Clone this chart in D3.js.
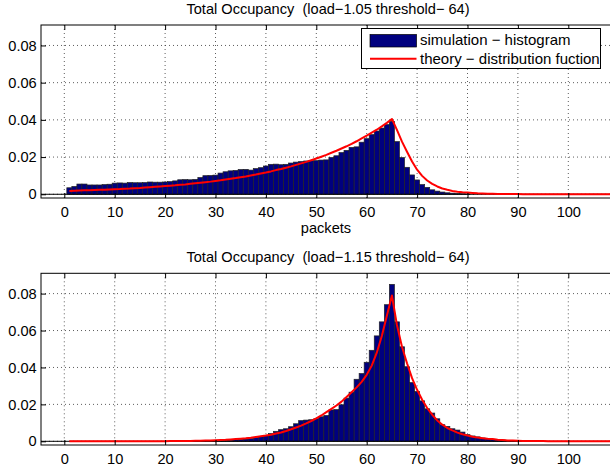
<!DOCTYPE html>
<html lang="en">
<head>
  <meta charset="UTF-8">
  <title>Total Occupancy</title>
  <script src="https://d3js.org/d3.v7.min.js"></script>
  <style>
    body { margin: 0; background: #fff; }
    svg { display: block; font-family: "Liberation Sans", Arial, sans-serif; }
    .title { white-space: pre; }
  </style>
</head>
<body>
  <svg width="610" height="472"></svg>

  <script>
    // tick values
    const xTicks = [0, 10, 20, 30, 40, 50, 60, 70, 80, 90, 100];
    const yTicks = [0, 0.02, 0.04, 0.06, 0.08];

    // panel titles
    const titles = [
      "Total Occupancy  (load\u22121.05 threshold\u2212 64)",
      "Total Occupancy  (load\u22121.15 threshold\u2212 64)"
    ];
    const legendLabels = ["simulation \u2212 histogram", "theory \u2212 distribution fuction"];

    // histogram, bins 1, 2, 3, ... (load 1.05)
    const histTop = [
      .0035, .0042, .0055, .0055, .0050, .0050, .0050, .0052, .0054, .0060,
      .0061, .0060, .0063, .0062, .0062, .0063, .0066, .0065, .0065, .0066,
      .0068, .0072, .0078, .0079, .0078, .0080, .0090, .0100, .0101, .0103,
      .0114, .0121, .0126, .0128, .0133, .0134, .0130, .0138, .0143, .0152,
      .0161, .0162, .0159, .0161, .0168, .0173, .0176, .0179, .0180, .0181,
      .0184, .0185, .0198, .0207, .0224, .0236, .0252, .0255, .0280, .0299,
      .0321, .0340, .0356, .0375, .0392, .0283, .0197, .0145, .0104, .0077,
      .0052, .0037, .0024, .0017, .0012, .0008, .0006, .0004, .0003, .0002
    ];

    // theory curve at packets 1, 2, 3, ... (load 1.05)
    const theoryTop = [
      .0018, .0019, .0020, .0021, .0022, .0023, .0024, .0025, .0026, .0027,
      .0028, .0030, .0031, .0033, .0034, .0036, .0038, .0040, .0042, .0044,
      .0046, .0048, .0051, .0053, .0056, .0059, .0062, .0065, .0068, .0072,
      .0075, .0079, .0083, .0087, .0092, .0096, .0101, .0106, .0112, .0117,
      .0123, .0130, .0136, .0143, .0150, .0158, .0166, .0174, .0183, .0192,
      .0202, .0212, .0223, .0234, .0246, .0258, .0271, .0285, .0300, .0315,
      .0331, .0347, .0365, .0384, .0405, .0346, .0283, .0229, .0176, .0132,
      .0099, .0074, .0056, .0042, .0031, .0024, .0018, .0014, .0011, .0009,
      .0007, .0005, .0004, .0003, .0003, .0002, .0002, .0001, .0001, .0001,
      0, 0, 0, 0, 0, 0, 0, 0, 0, 0,
      0, 0, 0, 0, 0, 0, 0, 0, 0
    ];

    // histogram, bins 1, 2, 3, ... (load 1.15)
    const histBottom = [
      0, 0, 0, 0, 0, 0, 0, 0, 0, 0,
      0, 0, 0, 0, 0, 0, 0, 0, 0, 0,
      0, 0, 0, 0, 0, .0001, .0001, .0002, .0002, .0003,
      .0004, .0005, .0006, .0008, .0010, .0012, .0015, .0020, .0026, .0032,
      .0042, .0054, .0063, .0068, .0079, .0095, .0112, .0115, .0117, .0122,
      .0133, .0140, .0170, .0172, .0198, .0234, .0266, .0336, .0367, .0428,
      .0493, .0571, .0647, .0740, .0850, .0647, .0512, .0404, .0318, .0270,
      .0219, .0176, .0153, .0122, .0090, .0081, .0068, .0061, .0050, .0036,
      .0029, .0024, .0018, .0015, .0011, .0009, .0007, .0005, .0004, .0003,
      .0002, .0001
    ];

    // theory curve at packets 1, 2, 3, ... (load 1.15)
    const theoryBottom = [
      0, 0, 0, 0, 0, 0, 0, 0, 0, 0,
      0, 0, 0, 0, 0, 0, 0, 0, 0, 0,
      .0001, .0001, .0001, .0002, .0002, .0003, .0003, .0004, .0005, .0006,
      .0007, .0008, .0010, .0012, .0014, .0016, .0019, .0023, .0027, .0031,
      .0036, .0042, .0048, .0056, .0065, .0075, .0085, .0097, .0110, .0124,
      .0140, .0158, .0176, .0194, .0215, .0240, .0266, .0292, .0322, .0360,
      .0410, .0480, .0570, .0680, .0790, .0630, .0512, .0423, .0342, .0279,
      .0225, .0180, .0144, .0113, .0090, .0072, .0059, .0047, .0038, .0031,
      .0025, .0020, .0017, .0014, .0012, .0009, .0007, .0005, .0004, .0003,
      .0002, .0002, .0001, .0001, .0001, 0, 0, 0, 0, 0,
      0, 0, 0, 0, 0, 0, 0, 0, 0
    ];

    const svg = d3.select("svg");
    const barFill = "#00007f";
    const left = 41, right = 615;
    const fontSize = 14.6;

    const x = d3.scaleLinear().domain([0, 100]).range([64.3, 568.3]);

    const panels = [
      { top: 25, bottom: 198, title: titles[0], hist: histTop, theory: theoryTop, xlabel: "packets", legend: true },
      { top: 273.3, bottom: 445, title: titles[1], hist: histBottom, theory: theoryBottom, xlabel: null, legend: false }
    ];

    svg.append("defs").append("clipPath").attr("id", "plotclip")
      .append("rect").attr("x", left).attr("y", 0).attr("width", right - left).attr("height", 472);

    panels.forEach((p, pi) => {
      const y = d3.scaleLinear().domain([-0.002, 0.091]).range([p.bottom, p.top]);
      const g = svg.append("g");

      // white plot background
      g.append("rect").attr("x", left).attr("y", p.top)
        .attr("width", right - left).attr("height", p.bottom - p.top).attr("fill", "#fff");

      // dotted grid
      g.append("g").selectAll("line").data(xTicks).join("line")
        .attr("x1", d => x(d)).attr("x2", d => x(d))
        .attr("y1", p.top).attr("y2", p.bottom)
        .attr("stroke", "#333").attr("stroke-width", 0.8).attr("stroke-dasharray", "1,3");
      g.append("g").selectAll("line").data(yTicks).join("line")
        .attr("x1", left).attr("x2", right)
        .attr("y1", d => y(d)).attr("y2", d => y(d))
        .attr("stroke", "#333").attr("stroke-width", 0.8).attr("stroke-dasharray", "1,3");

      const plot = g.append("g").attr("clip-path", "url(#plotclip)");

      // histogram bars
      const bins = p.hist.map((v, i) => ({ n: i + 1, v: v })).filter(d => d.v > 0);
      plot.append("g").selectAll("rect").data(bins).join("rect")
        .attr("x", d => x(d.n - 0.5))
        .attr("width", d => x(d.n + 0.5) - x(d.n - 0.5))
        .attr("y", d => y(d.v))
        .attr("height", d => y(0) - y(d.v))
        .attr("fill", barFill)
        .attr("stroke", "#222").attr("stroke-width", 0.7);

      // bar baseline
      plot.append("line").attr("x1", left).attr("x2", right)
        .attr("y1", y(0)).attr("y2", y(0))
        .attr("stroke", "#000").attr("stroke-width", 1);

      // theory curve
      const pts = p.theory.map((v, i) => [i + 1, v]);
      plot.append("path").datum(pts)
        .attr("fill", "none").attr("stroke", "#ff0000").attr("stroke-width", 2)
        .attr("stroke-linejoin", "round")
        .attr("d", d3.line().x(d => x(d[0])).y(d => y(d[1])));

      // axes (ticks inside the box)
      const fmt = d => d === 0 ? "0" : d.toFixed(2);
      const ax = g.append("g").attr("transform", `translate(0,${p.bottom})`)
        .call(d3.axisBottom(x).tickValues(xTicks).tickSize(-5).tickPadding(8.3));
      g.append("g").attr("transform", `translate(0,${p.top})`)
        .call(d3.axisTop(x).tickValues(xTicks).tickSize(-5).tickFormat(""));
      const ay = g.append("g").attr("transform", `translate(${left},0)`)
        .call(d3.axisLeft(y).tickValues(yTicks).tickSize(-5).tickPadding(4.3).tickFormat(fmt));
      g.append("g").attr("transform", `translate(${right},0)`)
        .call(d3.axisRight(y).tickValues(yTicks).tickSize(-5).tickFormat(""));
      g.selectAll(".domain").remove();
      g.selectAll(".tick line").attr("stroke", "#000");
      [ax, ay].forEach(a => a.selectAll("text")
        .attr("font-size", fontSize).attr("fill", "#000")
        .attr("font-family", "'Liberation Sans', Arial, sans-serif"));

      // box
      g.append("rect").attr("x", left).attr("y", p.top)
        .attr("width", right - left).attr("height", p.bottom - p.top)
        .attr("fill", "none").attr("stroke", "#000").attr("stroke-width", 1);

      // title
      svg.append("text").attr("class", "title")
        .attr("x", (left + right) / 2).attr("y", p.top - 11)
        .attr("text-anchor", "middle").attr("font-size", fontSize).text(p.title);

      if (p.xlabel) {
        svg.append("text").attr("x", (left + right) / 2 - 2).attr("y", p.bottom + 35)
          .attr("text-anchor", "middle").attr("font-size", fontSize).text(p.xlabel);
      }

      if (p.legend) {
        const lg = svg.append("g");
        lg.append("rect").attr("x", 361.5).attr("y", 28.5).attr("width", 239).attr("height", 40)
          .attr("fill", "#fff").attr("stroke", "#000").attr("stroke-width", 1);
        lg.append("rect").attr("x", 370).attr("y", 34.5).attr("width", 46.5).attr("height", 12.5)
          .attr("fill", barFill).attr("stroke", "#000").attr("stroke-width", 0.7);
        lg.append("line").attr("x1", 370).attr("x2", 416.5).attr("y1", 58.7).attr("y2", 58.7)
          .attr("stroke", "#ff0000").attr("stroke-width", 2);
        lg.selectAll("text").data(legendLabels).join("text")
          .attr("x", 420).attr("y", (d, i) => 45.3 + i * 19)
          .attr("font-size", 15).text(d => d);
      }
    });
  </script>
</body>
</html>
